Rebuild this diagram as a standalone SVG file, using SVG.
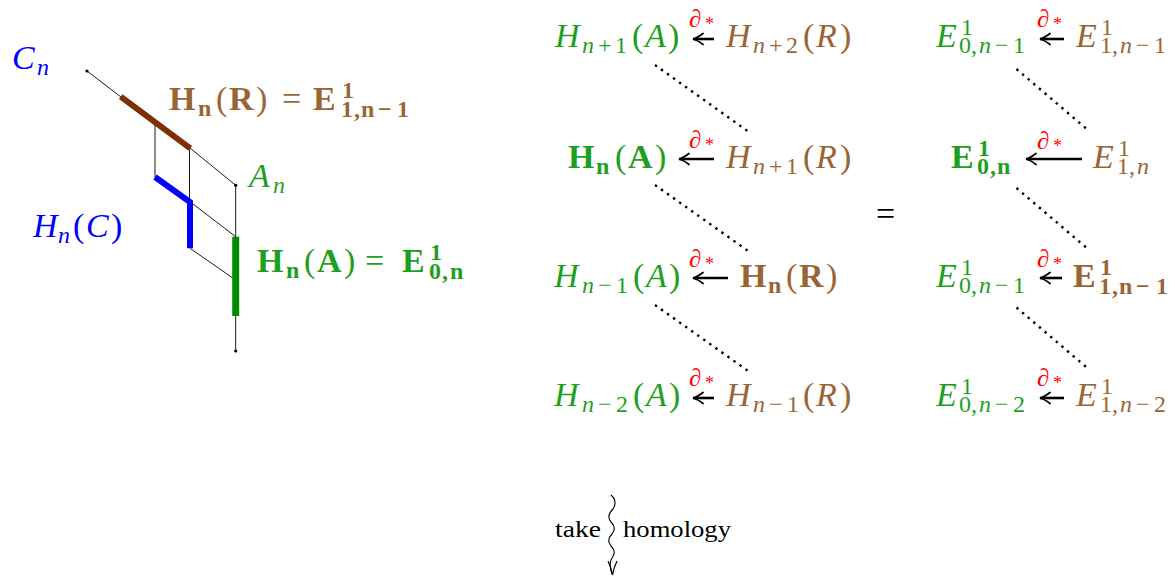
<svg xmlns="http://www.w3.org/2000/svg" width="1175" height="579" viewBox="0 0 1175 579">
<style>
text{font-family:"Liberation Serif","Times New Roman",serif;font-size:34px}
.i{font-style:italic}
.b{font-weight:bold}
.s{font-size:24px}
.t{font-size:23px}
.d{font-size:25px;font-style:italic}
.a{font-size:18px}
.g{fill:#1f9f1f}
.br{fill:#9a6534}
.bl{fill:#0000ff}
.r{fill:#ff0000}
.k{fill:#000}
.thin{stroke:#000;stroke-width:0.9;fill:none}
.dot{stroke:#000;stroke-width:2.4;stroke-dasharray:2.4 5;fill:none}
.shaft{stroke:#000;stroke-width:2.6;fill:none}
.head{stroke:#000;stroke-width:1.8;fill:none;stroke-linecap:round}
</style>
<rect width="1175" height="579" fill="#fff"/>

<!-- left chain picture -->
<g id="chain">
  <line class="thin" x1="87" y1="71" x2="121" y2="97"/>
  <line class="thin" x1="155" y1="124" x2="155" y2="177"/>
  <line class="thin" x1="189.5" y1="148" x2="189.5" y2="201"/>
  <line class="thin" x1="190" y1="148" x2="235.7" y2="185.3"/>
  <line class="thin" x1="235.7" y1="185.3" x2="235.7" y2="237"/>
  <line class="thin" x1="190" y1="201.7" x2="235.7" y2="236.7"/>
  <line class="thin" x1="190" y1="248.3" x2="235.7" y2="280"/>
  <line class="thin" x1="235.7" y1="316" x2="235.7" y2="351"/>
  <line x1="120.7" y1="96.7" x2="190.3" y2="148.3" stroke="#7f3000" stroke-width="6"/>
  <polyline points="155,177 190,202 190,248.3" fill="none" stroke="#0000ff" stroke-width="6"/>
  <line x1="235.7" y1="236.7" x2="235.7" y2="316" stroke="#008a00" stroke-width="7"/>
  <circle cx="87" cy="71" r="1.6"/>
  <circle cx="235.7" cy="185.3" r="1.6"/>
  <circle cx="235.7" cy="351" r="1.6"/>
</g>
<g id="label-Cn"><text class="bl"><tspan class="i" x="12" y="69">C</tspan><tspan class="i s" x="37" y="75">n</tspan></text></g>
<g id="label-An"><text class="g"><tspan class="i" x="249" y="187">A</tspan><tspan class="i s" x="273" y="193">n</tspan></text></g>
<g id="label-HnC"><text class="bl"><tspan class="i" x="33" y="237">H</tspan><tspan class="i s" x="58" y="243">n</tspan><tspan x="73" y="237">(</tspan><tspan class="i" x="86">C</tspan><tspan x="111">)</tspan></text></g>
<g id="label-HnR"><text class="br"><tspan class="b" x="169" y="110">H</tspan><tspan class="b s" x="198" y="116">n</tspan><tspan x="216" y="110">(</tspan><tspan class="b" x="229">R</tspan><tspan x="256">)</tspan><tspan x="282">=</tspan><tspan class="b" x="313">E</tspan><tspan class="b s" x="342" y="98">1</tspan><tspan class="b s" x="341 354 361 378 397" y="117">1,n−1</tspan></text></g>
<g id="label-HnA"><text class="g"><tspan class="b" x="257" y="272">H</tspan><tspan class="b s" x="286" y="278">n</tspan><tspan x="304" y="272">(</tspan><tspan class="b" x="317">A</tspan><tspan x="344">)</tspan><tspan x="365">=</tspan><tspan class="b" x="402">E</tspan><tspan class="b s" x="430" y="260">1</tspan><tspan class="b s" x="429 442 450" y="279">0,n</tspan></text></g>

<!-- middle column -->
<g id="m1a"><text class="g"><tspan class="i" x="555" y="47">H</tspan><tspan class="i s" x="582" y="53">n</tspan><tspan class="s" x="598 615">+1</tspan><tspan x="632" y="47">(</tspan><tspan class="i" x="645">A</tspan><tspan x="668">)</tspan></text></g>
<g id="m1r"><text class="br"><tspan class="i" x="726" y="47">H</tspan><tspan class="i s" x="753" y="53">n</tspan><tspan class="s" x="769 786">+2</tspan><tspan x="803" y="47">(</tspan><tspan class="i" x="816">R</tspan><tspan x="840">)</tspan></text></g>
<g id="m2a"><text class="g"><tspan class="b" x="568" y="168">H</tspan><tspan class="b s" x="596" y="174">n</tspan><tspan x="615" y="168">(</tspan><tspan class="b" x="628">A</tspan><tspan x="655">)</tspan></text></g>
<g id="m2r"><text class="br"><tspan class="i" x="726" y="168">H</tspan><tspan class="i s" x="753" y="174">n</tspan><tspan class="s" x="769 786">+1</tspan><tspan x="803" y="168">(</tspan><tspan class="i" x="816">R</tspan><tspan x="840">)</tspan></text></g>
<g id="m3a"><text class="g"><tspan class="i" x="554" y="287">H</tspan><tspan class="i s" x="582" y="293">n</tspan><tspan class="s" x="598 616">−1</tspan><tspan x="633" y="287">(</tspan><tspan class="i" x="646">A</tspan><tspan x="669">)</tspan></text></g>
<g id="m3r"><text class="br"><tspan class="b" x="740" y="287">H</tspan><tspan class="b s" x="768" y="293">n</tspan><tspan x="786" y="287">(</tspan><tspan class="b" x="799">R</tspan><tspan x="826">)</tspan></text></g>
<g id="m4a"><text class="g"><tspan class="i" x="554" y="406">H</tspan><tspan class="i s" x="582" y="412">n</tspan><tspan class="s" x="598 616">−2</tspan><tspan x="633" y="406">(</tspan><tspan class="i" x="646">A</tspan><tspan x="669">)</tspan></text></g>
<g id="m4r"><text class="br"><tspan class="i" x="726" y="406">H</tspan><tspan class="i s" x="753" y="412">n</tspan><tspan class="s" x="769 787">−1</tspan><tspan x="803" y="406">(</tspan><tspan class="i" x="816">R</tspan><tspan x="840">)</tspan></text></g>

<g id="eq"><text class="k" x="876" y="225">=</text></g>

<!-- right column -->
<g id="e1a"><text class="g"><tspan class="i" x="936" y="47">E</tspan><tspan class="s" x="961" y="35">1</tspan><tspan class="s" x="959 971" y="53">0,</tspan><tspan class="i s" x="979">n</tspan><tspan class="s" x="995 1013">−1</tspan></text></g>
<g id="e1r"><text class="br"><tspan class="i" x="1076" y="47">E</tspan><tspan class="s" x="1101" y="35">1</tspan><tspan class="s" x="1100 1112" y="53">1,</tspan><tspan class="i s" x="1120">n</tspan><tspan class="s" x="1136 1154">−1</tspan></text></g>
<g id="e2a"><text class="g"><tspan class="b" x="951" y="168">E</tspan><tspan class="b s" x="978" y="156">1</tspan><tspan class="b s" x="977 990 997" y="174">0,n</tspan></text></g>
<g id="e2r"><text class="br"><tspan class="i" x="1093" y="168">E</tspan><tspan class="s" x="1118" y="156">1</tspan><tspan class="s" x="1117 1129" y="174">1,</tspan><tspan class="i s" x="1137">n</tspan></text></g>
<g id="e3a"><text class="g"><tspan class="i" x="936" y="287">E</tspan><tspan class="s" x="961" y="275">1</tspan><tspan class="s" x="959 971" y="293">0,</tspan><tspan class="i s" x="979">n</tspan><tspan class="s" x="995 1013">−1</tspan></text></g>
<g id="e3r"><text class="br"><tspan class="b" x="1073" y="287">E</tspan><tspan class="b s" x="1100" y="275">1</tspan><tspan class="b s" x="1099 1112 1119 1136 1156" y="294">1,n−1</tspan></text></g>
<g id="e4a"><text class="g"><tspan class="i" x="936" y="406">E</tspan><tspan class="s" x="961" y="394">1</tspan><tspan class="s" x="959 971" y="412">0,</tspan><tspan class="i s" x="979">n</tspan><tspan class="s" x="995 1013">−2</tspan></text></g>
<g id="e4r"><text class="br"><tspan class="i" x="1076" y="406">E</tspan><tspan class="s" x="1101" y="394">1</tspan><tspan class="s" x="1100 1112" y="412">1,</tspan><tspan class="i s" x="1120">n</tspan><tspan class="s" x="1136 1154">−2</tspan></text></g>

<!-- connector labels -->
<g id="labels-d">
  <text class="r"><tspan class="d" x="689" y="27">∂</tspan><tspan class="a" x="705" y="30">*</tspan></text>
  <text class="r"><tspan class="d" x="689" y="148">∂</tspan><tspan class="a" x="705" y="151">*</tspan></text>
  <text class="r"><tspan class="d" x="689" y="267">∂</tspan><tspan class="a" x="705" y="270">*</tspan></text>
  <text class="r"><tspan class="d" x="689" y="386">∂</tspan><tspan class="a" x="705" y="389">*</tspan></text>
  <text class="r"><tspan class="d" x="1037" y="27">∂</tspan><tspan class="a" x="1053" y="30">*</tspan></text>
  <text class="r"><tspan class="d" x="1037" y="149">∂</tspan><tspan class="a" x="1053" y="152">*</tspan></text>
  <text class="r"><tspan class="d" x="1037" y="267">∂</tspan><tspan class="a" x="1053" y="270">*</tspan></text>
  <text class="r"><tspan class="d" x="1037" y="386">∂</tspan><tspan class="a" x="1053" y="389">*</tspan></text>
</g>

<g id="connectors">
  <!-- arrows (left-pointing) -->
  <path class="shaft" d="M693,39H714"/><path class="head" d="M703,33.5Q697,38 693,39Q697,40 703,44.5"/>
  <path class="shaft" d="M679,159H714"/><path class="head" d="M689,153.5Q683,158 679,159Q683,160 689,164.5"/>
  <path class="shaft" d="M693,278H728"/><path class="head" d="M703,272.5Q697,277 693,278Q697,279 703,283.5"/>
  <path class="shaft" d="M693,398H714"/><path class="head" d="M703,392.5Q697,397 693,398Q697,399 703,403.5"/>
  <path class="shaft" d="M1040,39H1064"/><path class="head" d="M1050,33.5Q1044,38 1040,39Q1044,40 1050,44.5"/>
  <path class="shaft" d="M1026,159H1082"/><path class="head" d="M1036,153.5Q1030,158 1026,159Q1030,160 1036,164.5"/>
  <path class="shaft" d="M1040,278H1062"/><path class="head" d="M1050,272.5Q1044,277 1040,278Q1044,279 1050,283.5"/>
  <path class="shaft" d="M1040,398H1064"/><path class="head" d="M1050,392.5Q1044,397 1040,398Q1044,399 1050,403.5"/>
  <!-- dotted diagonals -->
  <line class="dot" x1="655" y1="65" x2="751" y2="133.5"/>
  <line class="dot" x1="655" y1="185" x2="751" y2="253"/>
  <line class="dot" x1="655" y1="305" x2="751" y2="373"/>
  <line class="dot" x1="1016.5" y1="69" x2="1088.5" y2="130.5"/>
  <line class="dot" x1="1016.5" y1="188" x2="1088.5" y2="249.5"/>
  <line class="dot" x1="1016.5" y1="307.5" x2="1088.5" y2="369"/>
  <!-- squiggly arrow -->
  <path d="M611,495Q618,501 613,509Q606,516 611,522Q617,528 612,534Q606,540 611,546Q617,552 612,558Q608,564 612.5,575" fill="none" stroke="#000" stroke-width="1.1"/>
  <path d="M608,561Q611,567 612.5,575Q614,567 617,561" fill="none" stroke="#000" stroke-width="1.2"/>
</g>
<g id="label-take"><text class="k t" x="555" y="537" textLength="46" lengthAdjust="spacingAndGlyphs">take</text></g>
<g id="label-homology"><text class="k t" x="623" y="537" textLength="108" lengthAdjust="spacingAndGlyphs">homology</text></g>
</svg>
